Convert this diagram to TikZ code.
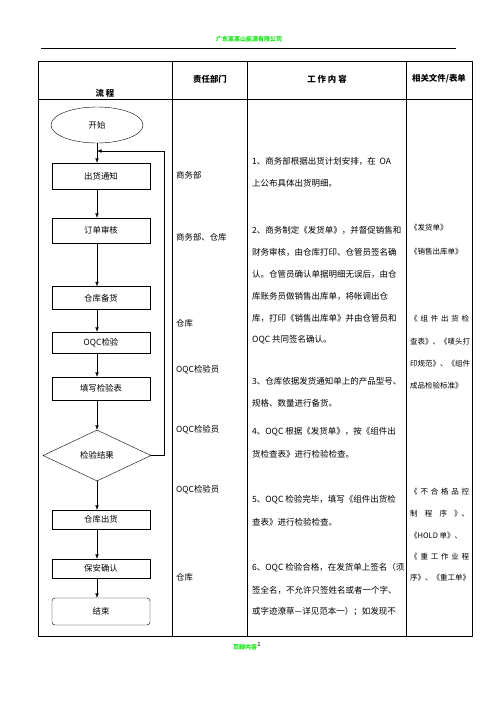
\documentclass[tikz,border=0pt]{standalone}
\usepackage{fontspec}
\setmainfont{Noto Sans CJK SC}
\usetikzlibrary{shapes.geometric,arrows.meta}
\definecolor{hdrgreen}{RGB}{20,230,20}
\newcommand{\spreadline}[2]{\makebox[#1][s]{#2}}
\begin{document}
\begin{tikzpicture}[x=1pt,y=-1pt,font=\fontsize{8.4}{10}\selectfont,
  box/.style={draw,minimum width=98pt,inner sep=0pt},
  arr/.style={-{Latex[length=4.5pt,width=3.5pt]}},
  cell/.style={anchor=west,inner sep=0pt},
  work/.style={cell,font=\fontsize{8.5}{10}\selectfont},
  docs/.style={cell,font=\fontsize{7.5}{9}\selectfont},
  hdr/.style={inner sep=0pt,font=\fontsize{8.4}{10}\selectfont\bfseries},
  tline/.style={line width=0.8pt}]
\useasboundingbox (0,0) rectangle (496,702);
% page header
\node[inner sep=0pt,text=hdrgreen,font=\fontsize{6}{7}\selectfont\bfseries] (ph) at (249,39) {广东某某山能源有限公司};
\coordinate (rl) at (41,48);
\coordinate (rr) at (456,48);
\draw[line width=0.9pt] (rl) -- (rr);
% table
\coordinate (tl) at (38,61);
\coordinate (br) at (472,636);
\draw[tline] (tl) rectangle (br);
\draw[tline] (38,99) -- (472,99);
\draw[tline] (172,61) -- (172,636);
\draw[tline] (247,61) -- (247,636);
\draw[tline] (406,61) -- (406,636);
% header texts
\node[hdr] (h1) at (105,93) {流\ 程};
\node[hdr] (h2) at (210,79) {责任部门};
\node[hdr] (h3) at (327,79) {工\ 作\ 内\ 容};
\node[hdr] (h4) at (439,79) {相关文件/表单};
% flowchart
\node[draw,ellipse,minimum width=92pt,minimum height=36pt,inner sep=0pt] (start) at (97,125) {开始};
\node[box,minimum height=26pt] (n1) at (101,176) {出货通知};
\node[box,minimum height=25pt] (n2) at (101,230.5) {订单审核};
\node[box,minimum height=23pt] (n3) at (101,298) {仓库备货};
\node[box,minimum height=21pt] (n4) at (101,342.5) {OQC检验};
\node[box,minimum height=23pt] (n5) at (101,388.5) {填写检验表};
\node[draw,diamond,minimum width=108pt,minimum height=51pt,inner sep=0pt] (dia) at (97,455.5) {检验结果};
\node[box,minimum height=19pt] (n6) at (101,519.5) {仓库出货};
\node[box,minimum height=19pt] (n7) at (101,568.5) {保安确认};
\node[box,minimum height=27pt,rounded corners=3pt] (n8) at (101,611.5) {结束};
\coordinate (j) at (97,151);
\draw[arr] (start.south) -- (n1.north -| start);
\draw[arr] (n1.south -| start) -- (n2.north -| start);
\draw[arr] (n2.south -| start) -- (n3.north -| start);
\draw[arr] (n3.south -| start) -- (n4.north -| start);
\draw[arr] (n4.south -| start) -- (n5.north -| start);
\draw[arr] (n5.south -| start) -- (dia.north);
\draw[arr] (dia.south) -- (n6.north -| start);
\draw[arr] (n6.south -| start) -- (n7.north -| start);
\draw[arr] (n7.south -| start) -- (n8.north -| start);
\draw[arr] (dia.east) -- ++(13,0) |- (j);
% column 2
\node[cell] (d1) at (176,175) {商务部};
\node[cell] (d2) at (176,237) {商务部、仓库};
\node[cell] (d3) at (176,323) {仓库};
\node[cell] (d4) at (176,370) {OQC检验员};
\node[cell] (d5) at (176,430) {OQC检验员};
\node[cell] (d6) at (176,490) {OQC检验员};
\node[cell] (d7) at (176,577) {仓库};
% column 3
\node[work] (w1) at (252,161) {1、商务部根据出货计划安排，在\ \ OA};
\node[work] (w2) at (252,183) {上公布具体出货明细。};
\node[work] (w3) at (252,230) {2、商务制定《发货单》，并督促销售和};
\node[work] (w4) at (252,252) {财务审核，由仓库打印、仓管员签名确};
\node[work] (w5) at (252,274) {认。仓管员确认单据明细无误后，由仓};
\node[work] (w6) at (252,296) {库账务员做销售出库单，将帐调出仓};
\node[work] (w7) at (252,318) {库，打印《销售出库单》并由仓管员和};
\node[work] (w8) at (252,340) {OQC 共同签名确认。};
\node[work] (w9) at (252,381) {3、仓库依据发货通知单上的产品型号、};
\node[work] (w10) at (252,403) {规格、数量进行备货。};
\node[work] (w11) at (252,432) {4、OQC 根据《发货单》，按《组件出};
\node[work] (w12) at (252,454) {货检查表》进行检验检查。};
\node[work] (w13) at (252,500) {5、OQC 检验完毕，填写《组件出货检};
\node[work] (w14) at (252,522) {查表》进行检验检查。};
\node[work] (w15) at (252,568) {6、OQC 检验合格，在发货单上签名（须};
\node[work] (w16) at (252,590) {签全名，不允许只签姓名或者一个字、};
\node[work] (w17) at (252,612) {或字迹潦草—详见范本一）；如发现不};
% column 4
\node[docs] (f1) at (410,228) {《发货单》};
\node[docs] (f2) at (410,252) {《销售出库单》};
\node[docs] (f3) at (410,319) {\spreadline{59pt}{《 组 件 出 货 检}};
\node[docs] (f4) at (410,342) {查表》、《唛头打};
\node[docs] (f5) at (410,364) {印规范》、《组件};
\node[docs] (f6) at (410,386) {成品检验标准》};
\node[docs] (f7) at (410,492) {\spreadline{59pt}{《 不 合 格 品 控}};
\node[docs] (f8) at (410,514) {\spreadline{59pt}{制 程 序 》、}};
\node[docs] (f9) at (410,536) {《HOLD 单》、};
\node[docs] (f10) at (410,557) {\spreadline{59pt}{《 重 工 作 业 程}};
\node[docs] (f11) at (410,578) {序》、《重工单》};
% footer
\node[inner sep=0pt,text=hdrgreen,font=\fontsize{6}{7}\selectfont\bfseries] (ft) at (245,647) {页脚内容};
\node[inner sep=0pt,anchor=west,font=\fontsize{6}{7}\selectfont] (fn) at (ft.north east) {1};
\end{tikzpicture}
\end{document}
